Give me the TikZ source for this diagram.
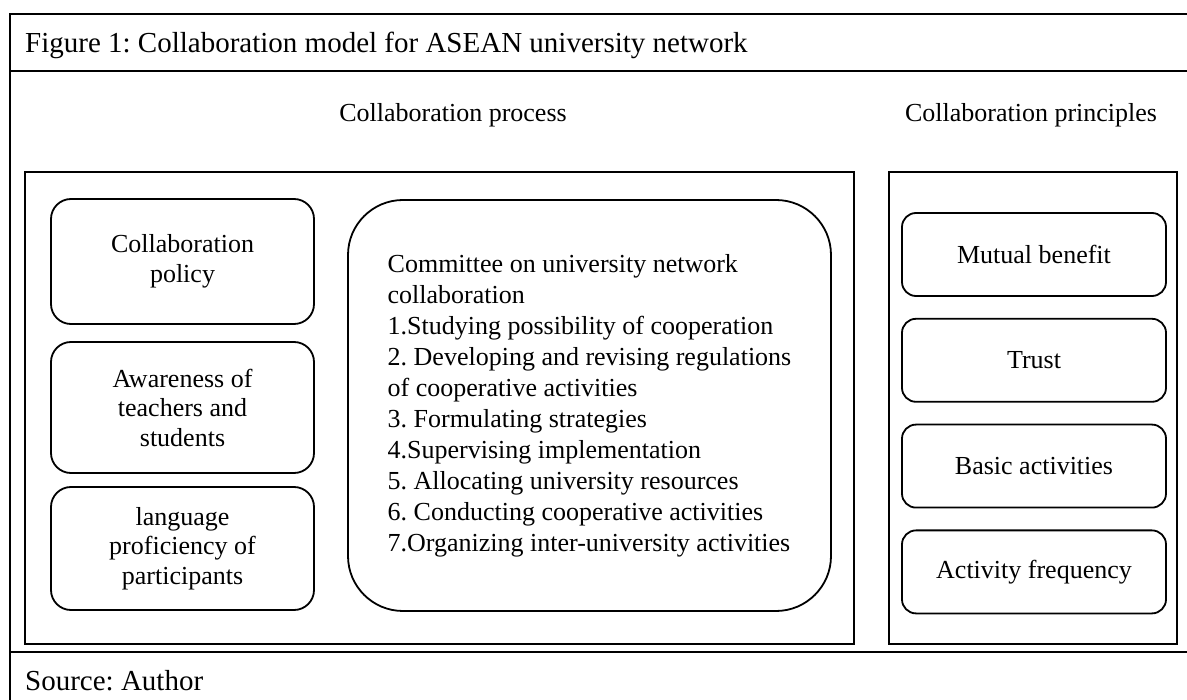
\documentclass[tikz,border=0pt]{standalone}
\usepackage{fontspec}
\setmainfont{Liberation Serif}
\usetikzlibrary{positioning}
\frenchspacing

\begin{document}
\begin{tikzpicture}[
  x=1pt, y=-1pt,
  node distance=21pt,
  rule/.style={line width=2.6pt},
  frame/.style={draw, line width=2pt, inner sep=0pt},
  head/.style={font=\fontsize{29}{34}\selectfont, anchor=base west, inner sep=0pt},
  colhead/.style={font=\fontsize{26}{31}\selectfont},
  lbox/.style={draw, line width=1.8pt, rounded corners=20pt, align=center, minimum width=263pt, font=\fontsize{26}{29.5}\selectfont},
  cbox/.style={draw, line width=1.8pt, rounded corners=55pt, align=left, minimum width=483pt, minimum height=411pt, font=\fontsize{26}{31}\selectfont},
  pbox/.style={draw, line width=1.8pt, rounded corners=14pt, minimum width=264pt, minimum height=83pt, font=\fontsize{26}{31}\selectfont}
]
\useasboundingbox (0,0) rectangle (1187,700);

% table rules
\draw[rule] (10,700) |- (1187,14);
\draw[rule] (10,71) -- (1187,71);
\draw[rule] (10,652) -- (1187,652);

\node[head] (title) at (25,53) {Figure 1: Collaboration model for ASEAN university network};
\node[colhead] (process) at (453,115) {Collaboration process};
\node[colhead] (principles) at (1031,115) {Collaboration principles};

\node[frame, minimum width=829pt, minimum height=472pt] (procframe) at (439.5,408) {};
\node[frame, minimum width=288pt, minimum height=472pt] (princframe) at (1033,408) {};

% process
\node[lbox, minimum height=125pt] (policy) at (182.5,261.5) {Collaboration\\policy};
\node[lbox, minimum height=131pt] (awareness) at (182.5,407.5) {Awareness of\\teachers and\\students};
\node[lbox, minimum height=123pt] (language) at (182.5,548.5) {language\\proficiency of\\participants};
\node[cbox] (committee) at (589.5,405.5) {Committee on university network\\collaboration\\1.Studying possibility of cooperation\\2. Developing and revising regulations\\of cooperative activities\\3. Formulating strategies\\4.Supervising implementation\\5. Allocating university resources\\6. Conducting cooperative activities\\7.Organizing inter-university activities};

% principles
\node[pbox] (benefit) at (1034,254.5) {Mutual benefit};
\node[pbox, below=of benefit] (trust) {Trust};
\node[pbox, below=of trust] (basic) {Basic activities};
\node[pbox, below=of basic] (frequency) {Activity frequency};

\node[head] (source) at (25,690) {Source: Author};
\end{tikzpicture}
\end{document}
